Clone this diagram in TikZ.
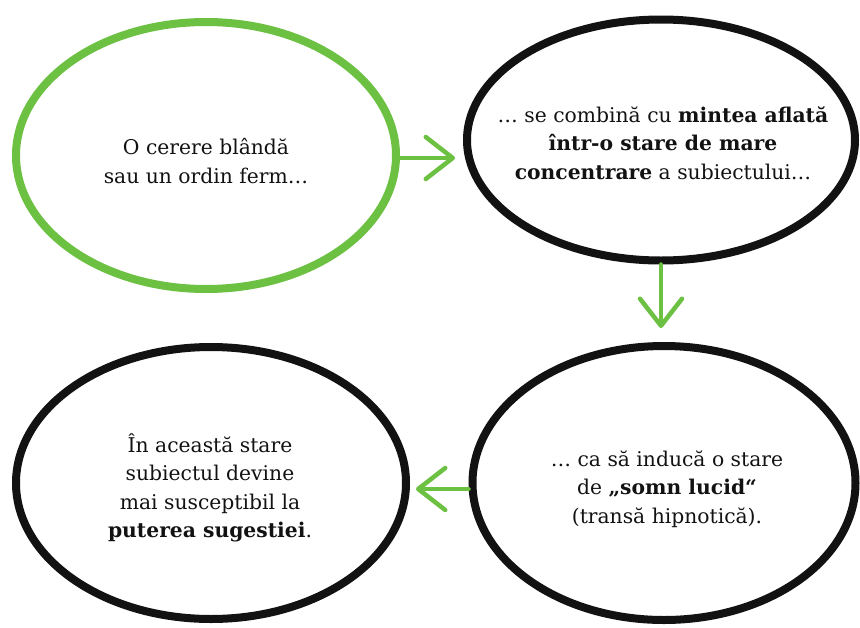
\documentclass[tikz,border=0pt]{standalone}
\usepackage{fontspec}
\setmainfont{DejaVu Serif}
\usetikzlibrary{shapes.geometric,arrows.meta}

\definecolor{leaf}{RGB}{108,192,66}
\definecolor{ink}{RGB}{18,18,18}

\tikzset{
  bubble/.style={ellipse, draw=ink, line width=8pt, inner sep=0pt},
  greenbubble/.style={bubble, draw=leaf},
  caption/.style={align=center, text=ink, font=\fontsize{20.3}{28.5}\selectfont},
  flow/.style={draw=leaf, line width=4.5pt, line cap=round,
    -{Straight Barb[length=27pt,width=42pt,round]}},
}

\begin{document}
\begin{tikzpicture}[x=1pt,y=-1pt]
  \useasboundingbox (0,0) rectangle (860,627);

  % the four stages
  \node[greenbubble, minimum width=380pt, minimum height=267pt] (e1) at (206,155.5) {};
  \node[bubble, minimum width=388pt, minimum height=241pt] (e2) at (661,140) {};
  \node[bubble, minimum width=383pt, minimum height=274pt] (e3) at (664,483) {};
  \node[bubble, minimum width=390pt, minimum height=272pt] (e4) at (211,483) {};

  % their texts
  \node[caption] (t1) at (206,161) {O cerere blândă\\sau un ordin ferm…};
  \node[caption] (t2) at (663,143) {… se combină cu \textbf{mintea aflată}\\
    \textbf{într-o stare de mare}\\\textbf{concentrare} a subiectului…};
  \node[caption] (t3) at (667,489) {… ca să inducă o stare\\
    de \textbf{„somn lucid“}\\(transă hipnotică).};
  \node[caption] (t4) at (210,488) {În această stare\\subiectul devine\\
    mai susceptibil la\\\textbf{puterea sugestiei}.};

  % connectors
  \draw[flow, shorten >=8pt] ([yshift=-2.5pt]e1.east) -- ([yshift=-2.5pt]e1.east -| e2.west);
  \draw[flow, shorten >=14pt] (e2.south) -- (e2.south |- e3.north);
  \draw[flow, shorten >=6pt] ([yshift=-6pt]e3.west) -- ([yshift=-6pt]e3.west -| e4.east);
\end{tikzpicture}
\end{document}
